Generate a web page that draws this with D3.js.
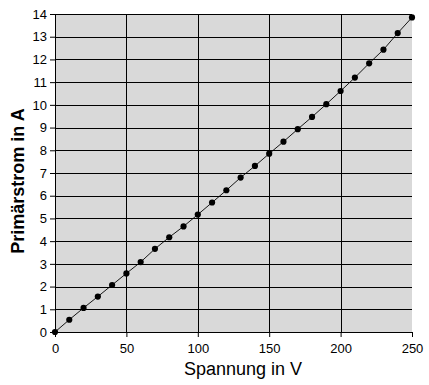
<!DOCTYPE html>
<html>
<head>
<meta charset="utf-8">
<script src="https://cdn.jsdelivr.net/npm/d3@7"></script>
<style>
  body { margin: 0; background: #fff; }
  text { font-family: "Liberation Sans", Arial, sans-serif; }
</style>
</head>
<body>
<script>
// Spannung (V) and Primärstrom (A)
const voltage = [0, 10, 20, 30, 40, 50, 60, 70, 80, 90, 100, 110, 120,
                 130, 140, 150, 160, 170, 180, 190, 200, 210, 220, 230, 240, 250];
const current = [0, 0.54, 1.06, 1.56, 2.07, 2.58, 3.08, 3.66, 4.17, 4.65, 5.17, 5.7, 6.24,
                 6.8, 7.31, 7.85, 8.38, 8.93, 9.47, 10.03, 10.61, 11.2, 11.83, 12.43, 13.16, 13.85];
const xTicks = [0, 50, 100, 150, 200, 250];
const yTicks = d3.range(0, 15);

const data = voltage.map((v, i) => ({ v: v, a: current[i] }));

const margin = { top: 14, right: 17, bottom: 53, left: 55 },
      width = 429 - margin.left - margin.right,
      height = 385 - margin.top - margin.bottom;

const svg = d3.select("body").append("svg")
    .attr("width", 429)
    .attr("height", 385);

const g = svg.append("g")
    .attr("transform", `translate(${margin.left},${margin.top})`);

const x = d3.scaleLinear().domain([0, 250]).range([0, width]);
const y = d3.scaleLinear().domain([0, 14]).range([height, 0]);

g.append("rect")
    .attr("width", width)
    .attr("height", height)
    .style("fill", "#d9d9d9");

// gridlines
g.selectAll(".hgrid")
    .data(yTicks.filter(d => d > 0))
    .join("line")
    .attr("class", "hgrid")
    .attr("x1", 0).attr("x2", width)
    .attr("y1", d => Math.round(y(d)) + 0.5)
    .attr("y2", d => Math.round(y(d)) + 0.5)
    .style("stroke", "#000");

g.selectAll(".vgrid")
    .data(xTicks.filter(d => d > 0 && d < 250))
    .join("line")
    .attr("class", "vgrid")
    .attr("y1", 0).attr("y2", height)
    .attr("x1", d => Math.round(x(d)) + 0.5)
    .attr("x2", d => Math.round(x(d)) + 0.5)
    .style("stroke", "#000");

// axes
const xAxis = g.append("g")
    .attr("transform", `translate(0,${height})`)
    .call(d3.axisBottom(x).tickValues(xTicks).tickSize(5).tickPadding(7).tickSizeOuter(0));

const yAxis = g.append("g")
    .call(d3.axisLeft(y).tickValues(yTicks).tickSize(5).tickPadding(3).tickSizeOuter(0));

[xAxis, yAxis].forEach(ax => {
    ax.select(".domain").style("stroke", "#000");
    ax.selectAll(".tick line").style("stroke", "#000");
    ax.selectAll(".tick text")
        .style("font-family", "'Liberation Sans', Arial, sans-serif")
        .style("font-size", "13px")
        .style("fill", "#000");
});

// series
g.append("path")
    .datum(data)
    .attr("d", d3.line().x(d => x(d.v)).y(d => y(d.a)))
    .style("fill", "none")
    .style("stroke", "#000")
    .style("stroke-width", 0.9);

g.selectAll(".pt")
    .data(data)
    .join("path")
    .attr("class", "pt")
    .attr("transform", d => `translate(${x(d.v)},${y(d.a)})`)
    .attr("d", d3.symbol().type(d3.symbolCircle).size(30))
    .style("fill", "#000");

// axis titles
svg.append("text")
    .attr("x", 243)
    .attr("y", 375)
    .attr("text-anchor", "middle")
    .style("font-size", "18px")
    .text("Spannung in V");

svg.append("text")
    .attr("transform", "translate(24,181) rotate(-90)")
    .attr("text-anchor", "middle")
    .style("font-size", "18px")
    .style("font-weight", "bold")
    .text("Primärstrom in A");
</script>
</body>
</html>
